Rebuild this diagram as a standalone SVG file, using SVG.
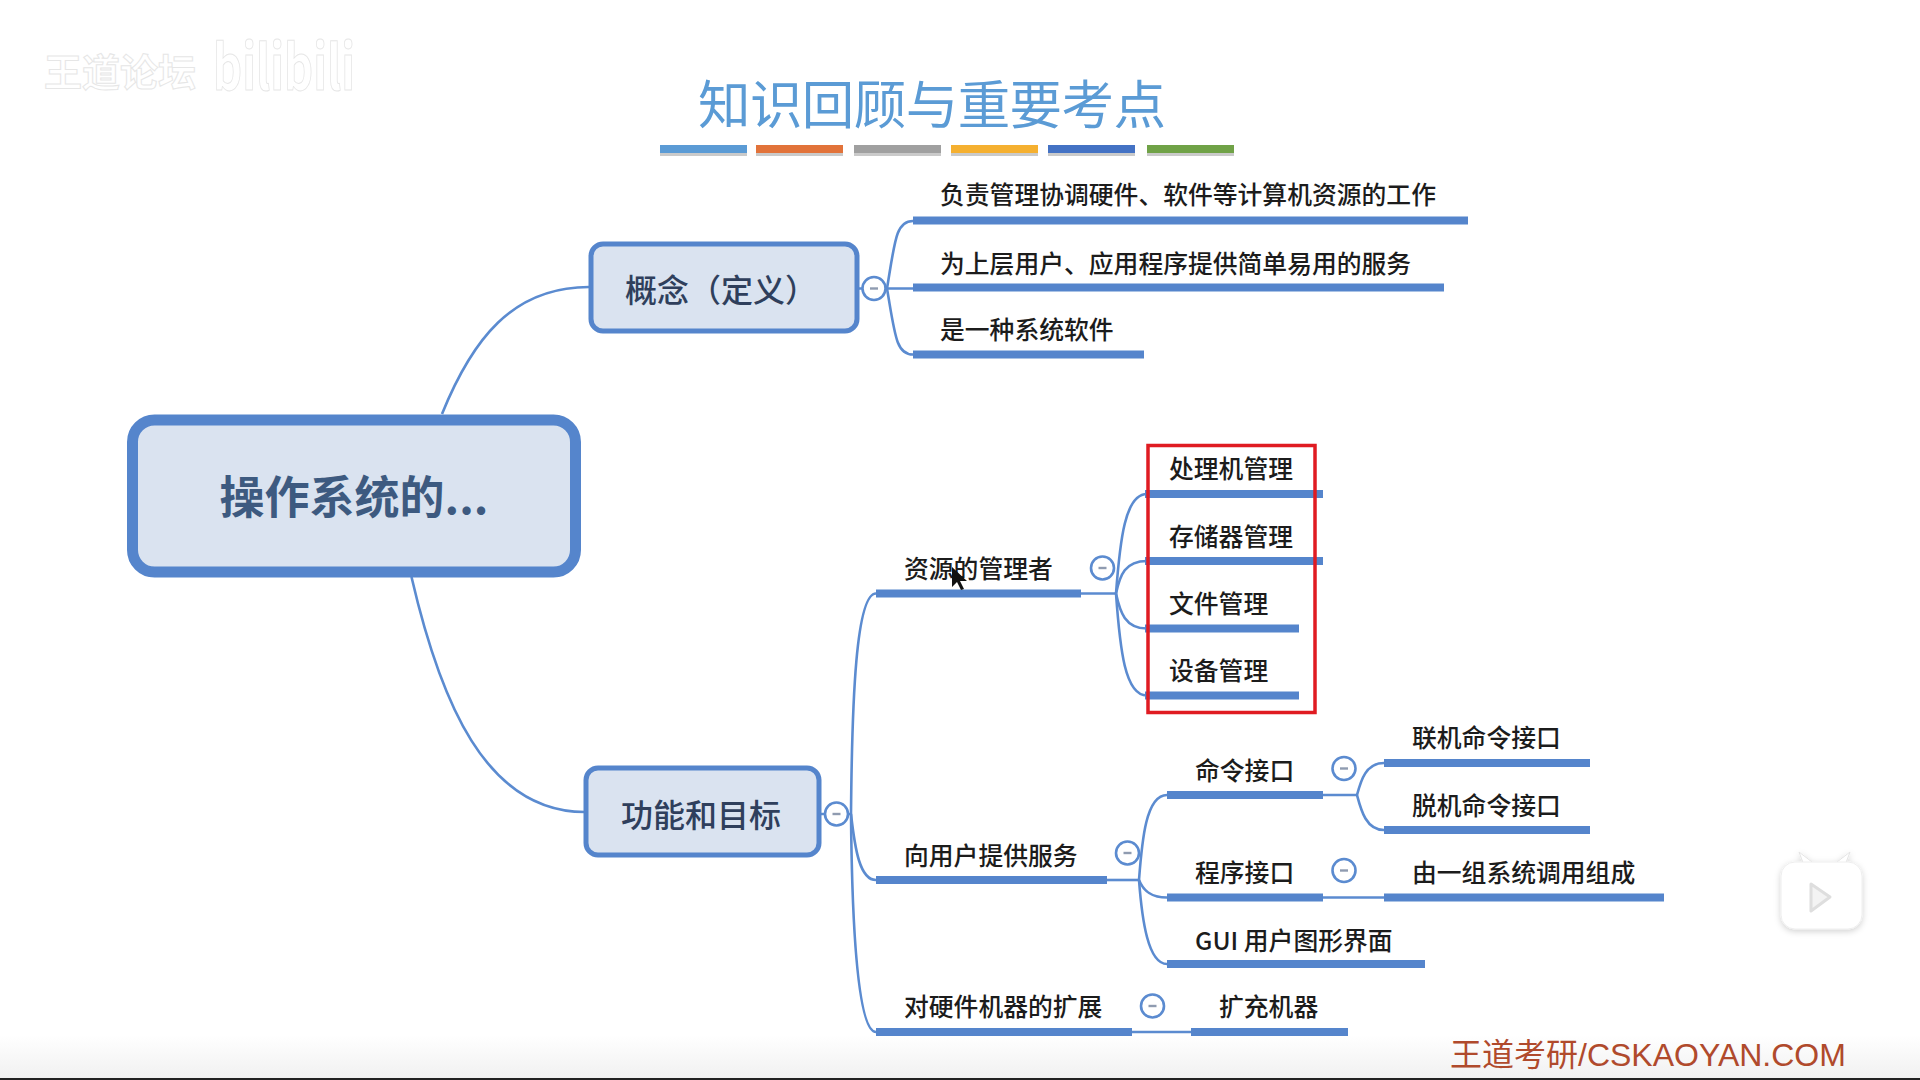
<svg xmlns="http://www.w3.org/2000/svg" width="1920" height="1080" viewBox="0 0 1920 1080">
<style>
text{font-family:"Noto Sans CJK SC","Noto Sans",sans-serif}
.t{font-size:24.800px;font-weight:500;fill:#1c1c1c}
.box{fill:#dae3f0;stroke:#5585cc;stroke-width:5}
.box-t{font-size:32px;font-weight:500;fill:#2f3f5c}
.c{fill:none;stroke:#5b8bd0;stroke-width:2.6}
.u{fill:#5585cc}
.tog{fill:#fff;stroke:#5b8bd0;stroke-width:2.6}
.dash{stroke:#8f9bb0;stroke-width:2.4}
.sh{fill:#8a8a8a;opacity:.45}
</style>
<defs>
<linearGradient id="fade" x1="0" y1="0" x2="0" y2="1"><stop offset="0" stop-color="#fff"/><stop offset="1" stop-color="#f1f1f1"/></linearGradient>
<filter id="soft" x="-20%" y="-20%" width="140%" height="140%"><feDropShadow dx="0" dy="2" stdDeviation="3" flood-color="#000" flood-opacity=".18"/></filter>
<g id="toggle"><circle class="tog" r="11.500"/><line class="dash" x1="-4" x2="4"/></g>
</defs>
<rect width="1920" height="1080" fill="#fff"/>
<rect y="1035" width="1920" height="43" fill="url(#fade)"/>
<rect y="1078" width="1920" height="2" fill="#222"/>

<g id="watermark" fill="#fff" stroke="#e6e6e6" stroke-width="1">
<text x="44" y="86" font-size="38" font-weight="700">王道论坛</text>
<text x="213" y="90" font-size="62" font-weight="700" textLength="142" lengthAdjust="spacingAndGlyphs">bilibili</text>
</g>

<g id="title">
<text x="932" y="124" text-anchor="middle" fill="#5b9bd5" textLength="468" style="font-size:52.500px">知识回顾与重要考点</text>
<rect class="sh" x="660" y="150" width="87" height="6"/><rect class="sh" x="756" y="150" width="87" height="6"/><rect class="sh" x="854" y="150" width="87" height="6"/><rect class="sh" x="951" y="150" width="87" height="6"/><rect class="sh" x="1048" y="150" width="87" height="6"/><rect class="sh" x="1147" y="150" width="87" height="6"/>
<rect x="660" y="145" width="87" height="8" fill="#5b9bd5"/><rect x="756" y="145" width="87" height="8" fill="#e2733a"/><rect x="854" y="145" width="87" height="8" fill="#a0a0a0"/><rect x="951" y="145" width="87" height="8" fill="#f5b030"/><rect x="1048" y="145" width="87" height="8" fill="#4472c4"/><rect x="1147" y="145" width="87" height="8" fill="#70a247"/>
</g>

<g id="connectors">
<path class="c" d="M442 414C472 340 512 287 589 287"/>
<path class="c" d="M411.500 577C440 700 485 812 585 812"/>
<path class="c" d="M858 288.500H863M885 288.500H913"/>
<path class="c" d="M887 288.500C895 240 896 221 913 221"/>
<path class="c" d="M887 288.500C895 335 896 354.500 913 354.500"/>
<path class="c" d="M820 814H825M848 814H851"/>
<path class="c" d="M851 814C852 700 856 593.500 876 593.500"/>
<path class="c" d="M851 814C855 850 860 880 876 880"/>
<path class="c" d="M851 814C852 930 858 1032 876 1032"/>
<path class="c" d="M1081 593.500H1116"/>
<path class="c" d="M1116 593.500C1120 540 1125 494 1147 494"/>
<path class="c" d="M1116 593.500C1120 575 1125 561 1147 561"/>
<path class="c" d="M1116 593.500C1120 612 1125 628.500 1147 628.500"/>
<path class="c" d="M1116 593.500C1120 650 1125 695.500 1147 695.500"/>
<path class="c" d="M1107 880H1139"/>
<path class="c" d="M1139 880C1142 840 1146 795 1167 795"/>
<path class="c" d="M1139 880C1143 890 1150 897.500 1167 897.500"/>
<path class="c" d="M1139 880C1142 920 1148 964 1167 964"/>
<path class="c" d="M1323 795H1357"/>
<path class="c" d="M1357 795C1361 780 1366 763 1384 763"/>
<path class="c" d="M1357 795C1361 810 1366 830 1384 830"/>
<path class="c" d="M1323 897.500H1384"/>
<path class="c" d="M1132 1032H1191"/>
</g>

<g id="root"><rect x="132.500" y="420" width="443" height="152" rx="22" fill="#dae3f0" stroke="#5585cc" stroke-width="11"/>
<text x="354" y="514" font-size="45" font-weight="700" fill="#3d5a80" text-anchor="middle">操作系统的...</text></g>

<g id="concept"><rect class="box" x="591" y="244" width="266" height="87" rx="12"/>
<text class="box-t" x="625" y="302">概念（定义）</text>
<use href="#toggle" x="874" y="288.500"/></g>
<g id="goal"><rect class="box" x="586" y="768" width="233" height="87" rx="12"/>
<text class="box-t" x="621" y="827">功能和目标</text>
<use href="#toggle" x="836.500" y="814"/></g>

<g id="c1"><rect class="u" x="913" y="216.500" width="555" height="8"/><text class="t" x="940" y="204">负责管理协调硬件、软件等计算机资源的工作</text></g>
<g id="c2"><rect class="u" x="913" y="283.500" width="531" height="8"/><text class="t" x="940" y="273">为上层用户、应用程序提供简单易用的服务</text></g>
<g id="c3"><rect class="u" x="913" y="350.500" width="231" height="8"/><text class="t" x="940" y="339">是一种系统软件</text></g>

<g id="res"><rect class="u" x="876" y="589.500" width="205" height="8"/><text class="t" x="904" y="578">资源的管理者</text><use href="#toggle" x="1102.500" y="568"/></g>
<g id="res1"><rect class="u" x="1145" y="490" width="178" height="8"/><text class="t" x="1169" y="478">处理机管理</text></g>
<g id="res2"><rect class="u" x="1145" y="557" width="178" height="8"/><text class="t" x="1169" y="546">存储器管理</text></g>
<g id="res3"><rect class="u" x="1145" y="624.500" width="154" height="8"/><text class="t" x="1169" y="613">文件管理</text></g>
<g id="res4"><rect class="u" x="1145" y="691.500" width="154" height="8"/><text class="t" x="1169" y="680">设备管理</text></g>
<rect id="highlight" x="1148" y="445.500" width="167" height="267" fill="none" stroke="#e01b22" stroke-width="3.500"/>

<g id="svc"><rect class="u" x="876" y="876" width="231" height="8"/><text class="t" x="904" y="865">向用户提供服务</text><use href="#toggle" x="1127.500" y="853"/></g>
<g id="cmd"><rect class="u" x="1167" y="791" width="156" height="8"/><text class="t" x="1195" y="780">命令接口</text><use href="#toggle" x="1344" y="768.500"/></g>
<g id="prog"><rect class="u" x="1167" y="893.500" width="156" height="8"/><text class="t" x="1195" y="882">程序接口</text><use href="#toggle" x="1344" y="870.500"/></g>
<g id="gui"><rect class="u" x="1167" y="960" width="258" height="8"/><text class="t" x="1195" y="950">GUI 用户图形界面</text></g>
<g id="online"><rect class="u" x="1384" y="759" width="206" height="8"/><text class="t" x="1412" y="747">联机命令接口</text></g>
<g id="offline"><rect class="u" x="1384" y="826" width="206" height="8"/><text class="t" x="1412" y="815">脱机命令接口</text></g>
<g id="sys"><rect class="u" x="1384" y="893.500" width="280" height="8"/><text class="t" x="1412" y="882">由一组系统调用组成</text></g>
<g id="hw"><rect class="u" x="876" y="1028" width="256" height="8"/><text class="t" x="904" y="1016">对硬件机器的扩展</text><use href="#toggle" x="1152.500" y="1006"/></g>
<g id="ext"><rect class="u" x="1191" y="1028" width="157" height="8"/><text class="t" x="1219" y="1016">扩充机器</text></g>

<polygon id="cursor" points="952,567 952,587 957,582 961,590 964,589 960,581 967,581" fill="#111"/>

<g id="play" filter="url(#soft)"><path d="M1805 868L1799 852L1812 862ZM1837 862L1850 852L1844 868Z" fill="#fff" stroke="#e4e4e4"/>
<rect x="1781" y="862" width="81" height="67" rx="14" fill="#fff" stroke="#eee"/>
<path d="M1811 884L1830 897L1811 911Z" fill="#f3f3f3" stroke="#dedede" stroke-width="3" stroke-linejoin="round"/></g>

<text id="footer" x="1450" y="1066" font-size="32" fill="#b04a2c">王道考研<tspan font-family="Liberation Sans" font-size="32">/CSKAOYAN.COM</tspan></text>
</svg>
